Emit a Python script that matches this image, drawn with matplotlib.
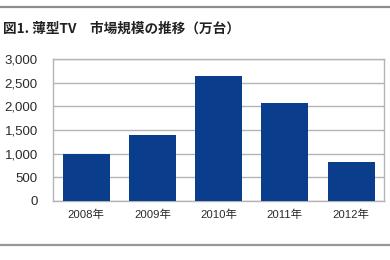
import matplotlib
matplotlib.use("Agg")
import matplotlib.pyplot as plt
from matplotlib.lines import Line2D
from matplotlib.ticker import FuncFormatter

# data (万台)
years = ["2008年", "2009年", "2010年", "2011年", "2012年"]
units = [1000, 1390, 2640, 2080, 830]
yticks = [0, 500, 1000, 1500, 2000, 2500, 3000]

title = "図1. 薄型TV\u3000市場規模の推移（万台）"

fam = ["Liberation Sans", "Noto Sans CJK JP", "DejaVu Sans"]
plt.rcParams["font.family"] = fam

fig = plt.figure(figsize=(3.9, 2.6), dpi=100)
fig.patch.set_facecolor("white")
ax = fig.add_axes([0.136, 0.227, 0.849, 0.546])

ax.bar(range(len(years)), units, width=0.71, color="#0a3d8c", zorder=3)
ax.set_xlim(-0.5, len(years) - 0.5)
ax.set_ylim(0, 3000)
ax.set_yticks(yticks)
ax.yaxis.set_major_formatter(FuncFormatter(lambda v, p: f"{int(v):,}"))
ax.set_xticks(range(len(years)))
ax.set_xticklabels(years, fontsize=8.2, color="#2a2a2a")
ax.tick_params(axis="y", length=0, pad=11, labelsize=9.5, labelcolor="#2a2a2a")
ax.tick_params(axis="x", length=0, pad=6)
ax.grid(axis="y", color="#b4b4b4", linewidth=1, zorder=0)
for s in ax.spines.values():
    s.set_color("#b4b4b4")
    s.set_linewidth(1)

fig.text(0.008, 0.89, title, fontsize=9.8, fontweight="bold",
         family=["Noto Sans CJK JP", "DejaVu Sans"], color="#222222",
         va="center", ha="left")

# horizontal rules above and below the figure
fig.add_artist(Line2D([0, 1], [0.973, 0.973], transform=fig.transFigure,
                      color="#8c8c8c", linewidth=1.6))
fig.add_artist(Line2D([0, 1], [0.059, 0.059], transform=fig.transFigure,
                      color="#9a9696", linewidth=1.6))

fig.savefig("out.png", dpi=100, facecolor="white")
